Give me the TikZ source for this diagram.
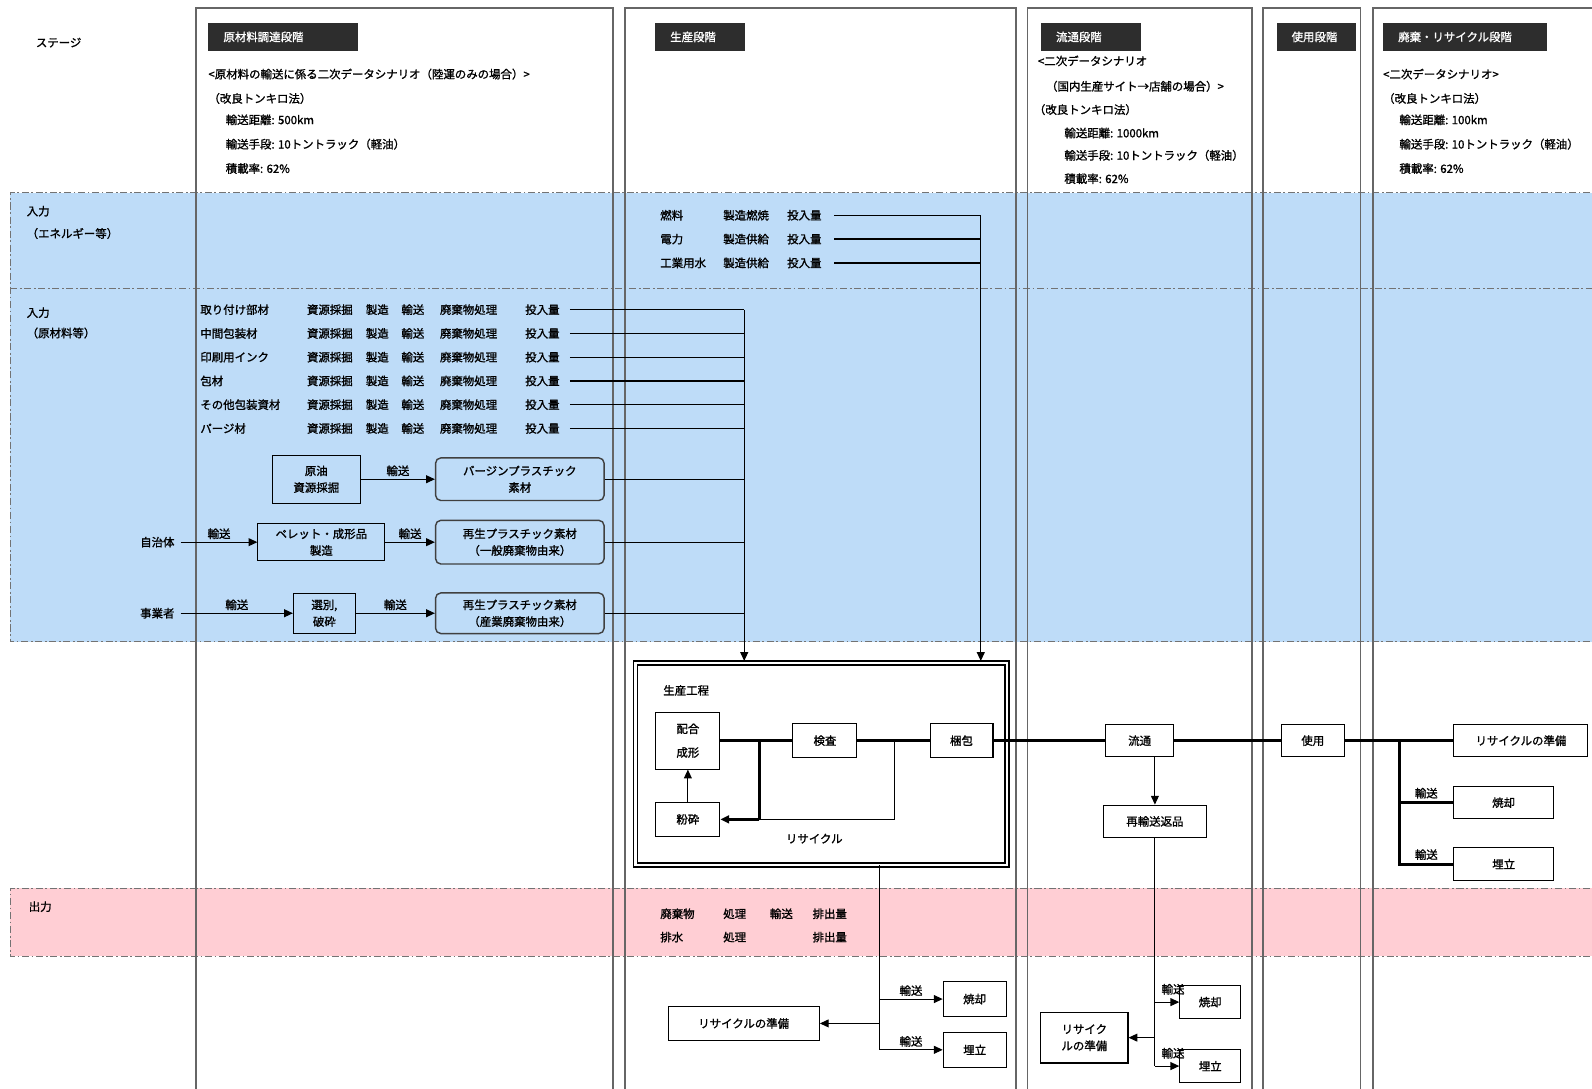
\documentclass[tikz,border=0pt]{standalone}
\usepackage{fontspec}
\setmainfont{Noto Sans CJK JP}[AutoFakeBold=1.3]
\usetikzlibrary{arrows.meta,positioning}

\definecolor{inblue}{RGB}{190,220,248}
\definecolor{outpink}{RGB}{255,206,212}
\definecolor{hdrgray}{RGB}{45,45,45}

\tikzset{
    every node/.style={font=\fontsize{6.5}{9.5}\selectfont\bfseries},
    txt/.style={anchor=west, inner sep=0pt},
    hdr/.style={fill=hdrgray, text=white, anchor=north west, minimum height=0.57cm, inner xsep=0.3cm, text width=#1},
    bx/.style 2 args={draw, line width=0.6pt, align=center, inner sep=1pt,
        minimum width=#1*0.0203cm, minimum height=#2*0.0203cm},
    rbx/.style 2 args={bx={#1}{#2}, rounded corners=3pt, draw=black!75, line width=0.8pt},
    band/.style={draw=black!55, dash pattern=on 4pt off 1.5pt on 1pt off 1.5pt, line width=0.6pt},
    colframe/.style={draw=black!60, line width=1.1pt},
    arr/.style={-{Triangle[length=5pt,width=4.5pt]}, line width=0.6pt},
    flow/.style={line width=1.7pt},
    lbl/.style={above, inner sep=1.5pt},
    rlbl/.style={anchor=south west, inner sep=1.5pt, pos=0}
}

\begin{document}
\begin{tikzpicture}[x=0.0203cm, y=-0.0203cm]
\useasboundingbox (0,0) rectangle (1568,1072);

% input / output bands
\fill[inblue] (10,190) rectangle (1580,632);
\draw[band] (1580,190) -- (10,190) -- (10,632) -- (1580,632) (10,284) -- (1580,284);
\fill[outpink] (10,875) rectangle (1580,942);
\draw[band] (1580,875) -- (10,875) -- (10,942) -- (1580,942);

% stage columns
\foreach \xa/\xb in {193/604, 616/1001, 1012/1233, 1244/1340, 1352/1585}
    \draw[colframe] (\xa,1080) -- (\xa,8) -- (\xb,8) -- (\xb,1080);

\node[txt] (stage) at (35,42) {ステージ};

% stage headers
\node[hdr=2.38cm] (hraw) at (205,22) {原材料調達段階};
\node[hdr=1.19cm] (hprod) at (645,22) {生産段階};
\node[hdr=1.39cm] (hdist) at (1025,22) {流通段階};
\node[hdr=0.98cm] (huse) at (1257,22) {使用段階};
\node[hdr=2.67cm] (hdisp) at (1362,22) {廃棄・リサイクル段階};

% transport scenarios
\node[txt] (sr1) at (205,73) {<原材料の輸送に係る二次データシナリオ（陸運のみの場合）>};
\node[txt] (sr2) at (205,97) {（改良トンキロ法）};
\node[txt] (sr3) at (222,118) {輸送距離: 500km};
\node[txt] (sr4) at (222,142) {輸送手段: 10トントラック（軽油）};
\node[txt] (sr5) at (222,166) {積載率: 62\%};

\node[txt] (sd1) at (1022,60) {<二次データシナリオ};
\node[txt] (sd2) at (1030,85) {（国内生産サイト→店舗の場合）>};
\node[txt] (sd3) at (1018,108) {（改良トンキロ法）};
\node[txt] (sd4) at (1048,131) {輸送距離: 1000km};
\node[txt] (sd5) at (1048,153) {輸送手段: 10トントラック（軽油）};
\node[txt] (sd6) at (1048,176) {積載率: 62\%};

\node[txt] (sw1) at (1362,73) {<二次データシナリオ>};
\node[txt] (sw2) at (1362,97) {（改良トンキロ法）};
\node[txt] (sw3) at (1378,118) {輸送距離: 100km};
\node[txt] (sw4) at (1378,142) {輸送手段: 10トントラック（軽油）};
\node[txt] (sw5) at (1378,166) {積載率: 62\%};

% band labels
\node[txt] (in1a) at (26,208) {入力};
\node[txt] (in1b) at (26,230) {（エネルギー等）};
\node[txt] (in2a) at (26,308) {入力};
\node[txt] (in2b) at (26,328) {（原材料等）};
\node[txt] (outa) at (28,893) {出力};

% production process
\node[draw, line width=0.9pt, double=white, double distance=1.3pt,
    minimum width=366*0.0203cm, minimum height=199*0.0203cm] (pframe) at (809,752.5) {};
\node[txt] (ptitle) at (653,680) {生産工程};
\node[bx={63}{56}] (mix) at (677.5,729.5) {配合\\[4pt]成形};
\node[bx={63}{33}] (insp) at (812.5,729.5) {検査};
\node[bx={62}{33}] (pack) at (947,729.5) {梱包};
\node[bx={63}{34}] (crush) at (677.5,807) {粉砕};
\node (rcy) at (802,826) {リサイクル};

\node[bx={67}{32}] (dist) at (1122.5,729.5) {流通};
\node[bx={62}{32}] (use) at (1293,729.5) {使用};
\node[bx={132}{32}] (recprep) at (1498,729.5) {リサイクルの準備};
\node[bx={98}{31}] (burnd) at (1481,790.5) {焼却};
\node[bx={98}{32}] (landd) at (1481,851) {埋立};

\draw[flow] (mix) -- (insp);
\draw[flow] (insp) -- (pack);
\draw[flow] (pack) -- (dist);
\draw[flow] (dist) -- (use);
\draw[flow] (use) -- (recprep);

\coordinate (dbr) at (1378,729.5);
\draw[flow] (dbr) |- (landd.west) node[lbl, pos=0.75] {輸送};
\draw[flow] (dbr |- burnd.west) -- (burnd.west) node[lbl, midway] {輸送};

% recycle loop
\coordinate (lp1) at (748,729.5);
\coordinate (lp2) at (748,807);
\coordinate (lp3) at (881,729.5);
\draw[flow] (lp1) -- (lp2);
\draw[arr, line width=1.4pt] (lp2) -- (crush.east);
\draw[line width=0.6pt] (lp3) |- (lp2);
\draw[arr] (crush) -- (mix);

% energy inputs
\coordinate (enin) at (966,651);
\foreach \nm/\pr [count=\i, evaluate=\i as \yy using 212+(\i-1)*23.5] in
    {燃料/製造燃焼, 電力/製造供給, 工業用水/製造供給} {
    \node[txt] (en\i) at (650,\yy) {\nm};
    \node[txt] (ep\i) at (712,\yy) {\pr};
    \node[txt] (eq\i) at (775,\yy) {投入量};
    \draw[line width=0.7pt] ([xshift=2.5mm]eq\i.east) -- (eq\i.east -| enin);
}
\draw[arr] (eq1.east -| enin) -- (enin);

% raw material inputs
\coordinate (rawin) at (733,651);
\foreach \nm [count=\i, evaluate=\i as \yy using 305+(\i-1)*23.4] in
    {取り付け部材, 中間包装材, 印刷用インク, 包材, その他包装資材, パージ材} {
    \node[txt] (rn\i) at (197,\yy) {\nm};
    \node[txt] (rs\i) at (302,\yy) {資源採掘};
    \node[txt] (rm\i) at (360,\yy) {製造};
    \node[txt] (rt\i) at (395,\yy) {輸送};
    \node[txt] (rw\i) at (433,\yy) {廃棄物処理};
    \node[txt] (rq\i) at (517,\yy) {投入量};
    \draw[line width=0.7pt] ([xshift=2mm]rq\i.east) -- (rq\i.east -| rawin);
}
\draw[arr] (rq1.east -| rawin) -- (rawin);

% plastic materials
\node[bx={87}{47}] (orig) at (311.5,472) {原油\\資源採掘};
\node[rbx={166}{42}] (virgin) at (512,472) {バージンプラスチック\\素材};
\node (jichi) at (155,534) {自治体};
\node[bx={125}{36}] (pellet) at (316.5,534) {ペレット・成形品\\製造};
\node[rbx={166}{43}] (recgen) at (512,534) {再生プラスチック素材\\（一般廃棄物由来）};
\node (jigyo) at (155,604) {事業者};
\node[bx={61}{39}] (sort) at (319.5,604) {選別,\\破砕};
\node[rbx={166}{40}] (recind) at (512,604) {再生プラスチック素材\\（産業廃棄物由来）};

\draw[arr] (orig) -- (virgin) node[lbl, midway] {輸送};
\draw[arr] (jichi) -- (pellet) node[lbl, midway] {輸送};
\draw[arr] (pellet) -- (recgen) node[lbl, midway] {輸送};
\draw[arr] (jigyo) -- (sort) node[lbl, midway] {輸送};
\draw[arr] (sort) -- (recind) node[lbl, midway] {輸送};
\draw[line width=0.7pt] (virgin.east) -- (virgin.east -| rawin);
\draw[line width=0.7pt] (recgen.east) -- (recgen.east -| rawin);
\draw[line width=0.7pt] (recind.east) -- (recind.east -| rawin);

% outputs
\node[txt] (on1) at (650,900) {廃棄物};
\node[txt] (op1) at (712,900) {処理};
\node[txt] (ot1) at (758,900) {輸送};
\node[txt] (oq1) at (800,900) {排出量};
\node[txt] (on2) at (650,923) {排水};
\node[txt] (op2) at (712,923) {処理};
\node[txt] (oq2) at (800,923) {排出量};

% production waste
\coordinate (po1) at (866,852);
\node[bx={62}{35}] (burnp) at (960,984) {焼却};
\node[bx={62}{35}] (landp) at (960,1034) {埋立};
\node[bx={149}{34}] (recp) at (732.5,1008) {リサイクルの準備};
\draw[line width=0.6pt] (po1) -- (po1 |- landp.west);
\draw[arr] (po1 |- burnp.west) -- (burnp.west) node[lbl, midway] {輸送};
\draw[arr] (po1 |- landp.west) -- (landp.west) node[lbl, midway] {輸送};
\draw[arr] (po1 |- recp.east) -- (recp.east);

% distribution waste
\node[bx={101}{32}] (retr) at (1137.5,809) {再輸送返品};
\node[bx={60}{32}] (burnq) at (1192,987) {焼却};
\node[bx={60}{32}] (landq) at (1192,1050) {埋立};
\node[bx={86}{50}] (recq) at (1068,1022) {リサイク\\ルの準備};
\draw[arr] (retr.north |- dist.south) -- (retr.north);
\draw[line width=0.6pt] (retr.south) -- (retr.south |- landq.west);
\draw[arr] (retr.south |- burnq.west) -- (burnq.west) node[rlbl, xshift=2pt, yshift=2.5pt] {輸送};
\draw[arr] (retr.south |- landq.west) -- (landq.west) node[rlbl, xshift=2pt, yshift=2.5pt] {輸送};
\draw[arr] (retr.south |- recq.east) -- (recq.east);
\end{tikzpicture}
\end{document}
